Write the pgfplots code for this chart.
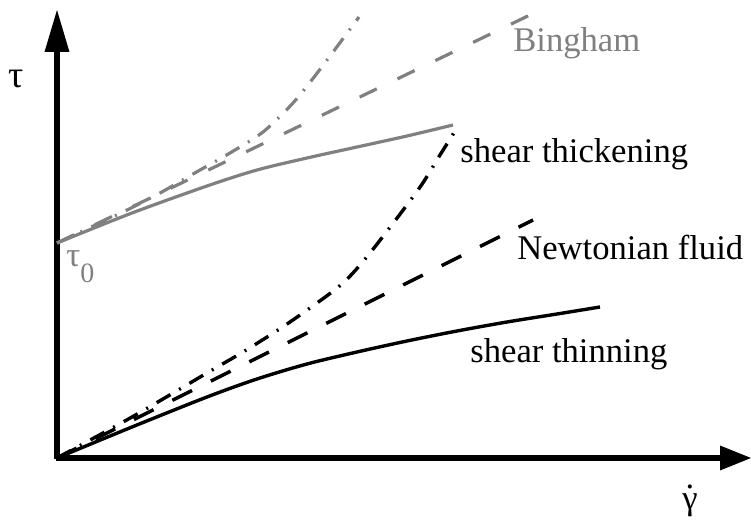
\documentclass[border=0pt]{standalone}
\usepackage{fontspec}
\setmainfont{Liberation Serif}
\usepackage{pgfplots}
\pgfplotsset{compat=1.18}
\definecolor{lgray}{gray}{0.5}
\newcommand\lbl{\fontsize{17.3}{20}\selectfont}
\begin{document}
\begin{tikzpicture}
\useasboundingbox (-28.5pt,-31pt) rectangle (347pt,229pt);
\begin{axis}[
  at={(0,0)}, anchor=south west,
  scale only axis, width=347pt, height=224pt,
  xmin=0, xmax=694, ymin=0, ymax=448,
  axis lines=none, xtick=\empty, ytick=\empty,
  clip=false,
]
% axes with arrow heads
\draw[line width=2.8pt] (axis cs:-1.4,0) -- (axis cs:665,0);
\draw[line width=2.8pt] (axis cs:0,-1.4) -- (axis cs:0,408);
\fill (axis cs:663,-12.5) -- (axis cs:694,0) -- (axis cs:663,12.5) -- cycle;
\fill (axis cs:-12.5,406) -- (axis cs:0,448) -- (axis cs:12.5,406) -- cycle;
% Newtonian type curves (black, from origin)
\addplot[black, line width=1.7pt, smooth] coordinates {
  (0,0) (75,31) (150,61) (200,79) (250,94) (300,106) (350,117) (400,127) (450,136) (500,144) (543,151)};
\addplot[black, line width=1.7pt, dash pattern=on 11pt off 10.5pt] coordinates {
  (0,0) (476,238)};
\addplot[black, line width=1.7pt, smooth, dash pattern=on 8pt off 5pt on 1pt off 5pt] coordinates {
  (0,0) (75,41) (150,85) (186,106) (221,128) (253,150) (286,175) (313,205) (361,268) (383,303) (400,330)};
% Bingham type curves (gray, from tau_0)
\addplot[lgray, line width=1.6pt, smooth] coordinates {
  (0,215) (75,245) (150,272) (200,288) (250,300) (300,311) (350,322) (396,333)};
\addplot[lgray, line width=1.6pt, dash pattern=on 9.5pt off 11.5pt] coordinates {
  (0,215) (475,444)};
\addplot[lgray, line width=1.6pt, smooth, dash pattern=on 8pt off 5pt on 1pt off 5pt] coordinates {
  (0,215) (66,246) (103,265) (136,284) (173,305) (206,326) (236,355) (261,386) (285,418) (302,441)};
% labels
\node[anchor=base west, text=lgray, inner sep=0pt] at (axis cs:456,406) {\lbl Bingham};
\node[anchor=base west, inner sep=0pt] at (axis cs:403,295) {\lbl shear thickening};
\node[anchor=base west, inner sep=0pt] at (axis cs:460,198) {\lbl Newtonian fluid};
\node[anchor=base west, inner sep=0pt] at (axis cs:413,95) {\lbl shear thinning};
\node[anchor=base west, inner sep=0pt] at (axis cs:-49,370) {\fontsize{19}{22}\selectfont τ};
\node[anchor=base west, text=lgray, inner sep=0pt] at (axis cs:9,191) {\lbl τ\raisebox{-8pt}{\fontsize{14}{16}\selectfont 0}};
\node[anchor=base west, inner sep=0pt] at (axis cs:625,-52) {\lbl\ooalign{γ\cr\hidewidth\raisebox{0.62em}{.}\hidewidth\cr}};
\end{axis}
\end{tikzpicture}
\end{document}
